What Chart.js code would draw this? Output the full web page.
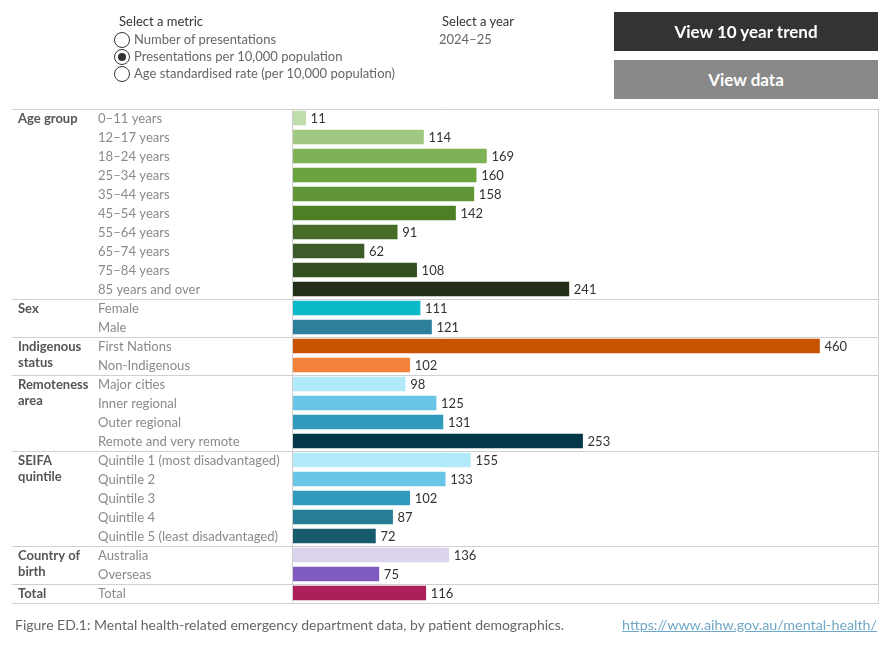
<!DOCTYPE html>
<html>
<head>
<meta charset="utf-8">
<script src="https://cdn.jsdelivr.net/npm/chart.js@4"></script>
<style>
  body { margin: 0; background: #fff; font-family: Lato, "Noto Sans", sans-serif; }
  #wrap { position: relative; width: 891px; height: 650px; overflow: hidden; }
  #myChart { position: absolute; left: 0; top: 0; }
  .t { position: absolute; white-space: nowrap; font-size: 13px; line-height: 16px; }
  .dark { color: #333; }
  .grey { color: #666; }
  .radio { position: absolute; width: 14px; height: 14px; border: 1px solid #333; border-radius: 50%; background: #fff; }
  .radio.on::after { content: ''; position: absolute; left: 3px; top: 3px; width: 8px; height: 8px; border-radius: 50%; background: #333; }
  .btn { position: absolute; left: 614px; width: 264px; height: 39px; color: #fff; font-weight: bold;
         font-size: 17px; line-height: 39px; text-align: center; }
  a.link { color: #6fa8c8; text-decoration: underline; }
</style>
</head>
<body>
<div id="wrap">
  <canvas id="myChart" width="891" height="650"></canvas>

  <div class="t dark" style="left:119px; top:13px;">Select a metric</div>
  <div class="radio" style="left:114px; top:32px;"></div>
  <div class="radio on" style="left:114px; top:49px;"></div>
  <div class="radio" style="left:114px; top:66px;"></div>
  <div class="t grey" style="left:134px; top:31px;">Number of presentations</div>
  <div class="t grey" style="left:134px; top:48px;">Presentations per 10,000 population</div>
  <div class="t grey" style="left:134px; top:65px;">Age standardised rate (per 10,000 population)</div>

  <div class="t dark" style="left:442px; top:13px;">Select a year</div>
  <div class="t grey" style="left:439px; top:31px;">2024–25</div>

  <div class="btn" style="top:12px; background:#333333;">View 10 year trend</div>
  <div class="btn" style="top:60px; background:#898989;">View data</div>

  <div class="t grey" style="left:15px; top:617px; font-size:14px;">Figure ED.1: Mental health-related emergency department data, by patient demographics.</div>
  <div class="t" style="left:622px; top:617px; font-size:14.3px;"><a class="link">https://www.aihw.gov.au/mental-health/</a></div>
</div>

<script>
// categorías (filas) y valores por 10.000 habitantes
const etiquetas = [
  '0–11 years', '12–17 years', '18–24 years', '25–34 years', '35–44 years',
  '45–54 years', '55–64 years', '65–74 years', '75–84 years', '85 years and over',
  'Female', 'Male',
  'First Nations', 'Non-Indigenous',
  'Major cities', 'Inner regional', 'Outer regional', 'Remote and very remote',
  'Quintile 1 (most disadvantaged)', 'Quintile 2', 'Quintile 3', 'Quintile 4', 'Quintile 5 (least disadvantaged)',
  'Australia', 'Overseas',
  'Total'
];
const valores = [
  11, 114, 169, 160, 158, 142, 91, 62, 108, 241,
  111, 121,
  460, 102,
  98, 125, 131, 253,
  155, 133, 102, 87, 72,
  136, 75,
  116
];
// grupos: nombre y cantidad de filas
const grupos = [
  ['Age group'], ['Sex'], ['Indigenous', 'status'], ['Remoteness', 'area'],
  ['SEIFA', 'quintile'], ['Country of', 'birth'], ['Total']
];
const filasPorGrupo = [10, 2, 2, 4, 5, 2, 1];

const colores = [
  '#bfdcab', '#a0c882', '#7fb256', '#6ba33e', '#5f9535', '#4d7f27', '#456b26', '#3d5a2a', '#344f20', '#232e16',
  '#0ab9c7', '#2e7f9b',
  '#c85200', '#f5823a',
  '#b2eaf9', '#69c5e6', '#2f9abc', '#03384a',
  '#b2eaf9', '#69c5e6', '#2f9abc', '#277d95', '#175a6e',
  '#dbd4ec', '#7f5bbf',
  '#ac1f58'
];

const FUENTE = 'Lato, "Noto Sans", sans-serif';

// plugin para dibujar la tabla: líneas, etiquetas y valores
const tablaPlugin = {
  id: 'tabla',
  afterDatasetsDraw(chart) {
    const ctx = chart.ctx;
    const area = chart.chartArea;
    const y = chart.scales.y;
    const x = chart.scales.x;
    const paso = y.getPixelForValue(1) - y.getPixelForValue(0);
    const izq = 12;

    ctx.save();
    ctx.strokeStyle = '#d0d0d0';
    ctx.lineWidth = 1;

    // borde superior, derecho y divisor vertical
    ctx.beginPath();
    ctx.moveTo(izq, Math.round(area.top) + 0.5);
    ctx.lineTo(area.right, Math.round(area.top) + 0.5);
    ctx.moveTo(Math.round(area.right) - 0.5, area.top);
    ctx.lineTo(Math.round(area.right) - 0.5, area.bottom);
    ctx.moveTo(Math.round(area.left) - 0.5, area.top);
    ctx.lineTo(Math.round(area.left) - 0.5, area.bottom);
    ctx.stroke();

    // separadores y nombres de grupo
    let fila = 0;
    grupos.forEach((nombre, g) => {
      ctx.fillStyle = '#555';
      ctx.font = 'bold 13px ' + FUENTE;
      ctx.textAlign = 'left';
      ctx.textBaseline = 'middle';
      nombre.forEach((linea, i) => {
        ctx.fillText(linea, 18, y.getPixelForValue(fila) + 1 + i * 16);
      });
      fila += filasPorGrupo[g];
      const fin = Math.round(y.getPixelForValue(fila - 1) + paso / 2) + 0.5;
      ctx.beginPath();
      ctx.moveTo(izq, fin);
      ctx.lineTo(area.right, fin);
      ctx.stroke();
    });

    // etiquetas de fila y valores
    etiquetas.forEach((et, i) => {
      const py = y.getPixelForValue(i) + 1;
      ctx.textAlign = 'left';
      ctx.textBaseline = 'middle';
      ctx.font = '13.1px ' + FUENTE;
      ctx.fillStyle = '#8a8a8a';
      ctx.fillText(et, 98, py);
      ctx.font = '13px ' + FUENTE;
      ctx.fillStyle = '#333';
      ctx.fillText(String(valores[i]), x.getPixelForValue(valores[i]) + 5, py);
    });
    ctx.restore();
  }
};

let ctx = document.getElementById('myChart').getContext('2d');
let myChart = new Chart(ctx, {
  type: 'bar',
  data: {
    labels: etiquetas,
    datasets: [{
      data: valores,
      backgroundColor: colores,
      borderWidth: 0,
      barThickness: 14
    }]
  },
  options: {
    indexAxis: 'y',
    responsive: false,
    animation: false,
    layout: { padding: { left: 293, right: 12, top: 108.5, bottom: 47.5 } },
    scales: {
      x: { display: false, min: 0, max: 512 },
      y: { display: false, offset: true }
    },
    plugins: {
      legend: { display: false },
      tooltip: { enabled: false }
    }
  },
  plugins: [tablaPlugin]
});
</script>
</body>
</html>
